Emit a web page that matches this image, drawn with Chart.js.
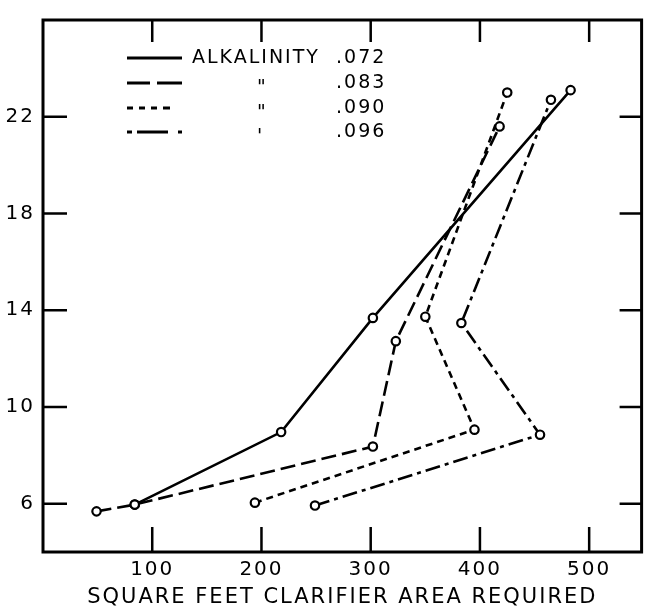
<!DOCTYPE html>
<html><head><meta charset="utf-8">
<script src="https://cdn.jsdelivr.net/npm/chart.js@4.4.1/dist/chart.umd.min.js"></script>
<style>html,body{margin:0;padding:0;background:#fff;}</style>
</head><body>
<canvas id="c" width="648" height="606" style="width:648px;height:606px;display:block"></canvas>
<script>
// ---- data ----
const xTicks = [100, 200, 300, 400, 500];
const yTicks = [6, 10, 14, 18, 22];
const seriesNames = ['.072', '.083', '.090', '.096'];
const legendWords = ['ALKALINITY', '"', '"', "'"];
const xTitle = 'SQUARE FEET CLARIFIER AREA REQUIRED';

const area072  = [84, 218, 302, 483];
const depth072 = [5.96, 8.96, 13.68, 23.1];
const area083  = [49, 84, 302, 323, 418];
const depth083 = [5.68, 5.96, 8.36, 12.72, 21.6];
const area090  = [194, 395, 350, 425];
const depth090 = [6.04, 9.06, 13.73, 23.0];
const area096  = [249, 455, 383, 465];
const depth096 = [5.92, 8.85, 13.47, 22.7];

const dashes = [[], [15, 6], [7, 5], [15, 5, 4, 5]];
const FONT = 'DejaVu Sans';
const SPACING = '2px';

function pts(xs, ys) { return xs.map((v, i) => ({ x: v, y: ys[i] })); }
const allData = [pts(area072, depth072), pts(area083, depth083), pts(area090, depth090), pts(area096, depth096)];

const datasets = allData.map((d, i) => ({
  label: seriesNames[i],
  data: d,
  showLine: true,
  borderColor: '#000',
  borderWidth: 2.6,
  borderDash: dashes[i],
  borderCapStyle: 'butt',
  pointRadius: 4.2,
  pointBorderWidth: 2.2,
  pointBackgroundColor: '#fff',
  pointBorderColor: '#000',
  tension: 0
}));

const framePlugin = {
  id: 'frame',
  beforeUpdate(chart) { chart.ctx.letterSpacing = SPACING; },
  beforeLayout(chart) { chart.ctx.letterSpacing = SPACING; },
  beforeDraw(chart) { chart.ctx.letterSpacing = SPACING; },
  afterDraw(chart) {
    const { ctx, chartArea: a, scales: { x, y } } = chart;
    ctx.save();
    ctx.setLineDash([]);
    ctx.strokeStyle = '#000';
    ctx.lineWidth = 3;
    ctx.strokeRect(a.left, a.top, a.right - a.left, a.bottom - a.top);
    ctx.lineWidth = 2.5;
    ctx.beginPath();
    xTicks.forEach(v => {
      const px = x.getPixelForValue(v);
      ctx.moveTo(px, a.bottom); ctx.lineTo(px, a.bottom - 25);
      ctx.moveTo(px, a.top); ctx.lineTo(px, a.top + 22);
    });
    yTicks.forEach(v => {
      const py = y.getPixelForValue(v);
      ctx.moveTo(a.left, py); ctx.lineTo(a.left + 24, py);
      ctx.moveTo(a.right, py); ctx.lineTo(a.right - 22, py);
    });
    ctx.stroke();

    // legend
    const rows = [58, 83, 108, 132];
    const segs = [
      [[127, 182]],
      [[127, 150], [157, 182]],
      [[127, 133], [139, 145], [151, 157], [163, 170]],
      [[127, 132], [137, 168], [178, 182]]
    ];
    ctx.lineWidth = 3;
    segs.forEach((sg, i) => {
      ctx.beginPath();
      sg.forEach(s => { ctx.moveTo(s[0], rows[i]); ctx.lineTo(s[1], rows[i]); });
      ctx.stroke();
    });
    ctx.fillStyle = '#000';
    ctx.font = '19px "' + FONT + '"';
    ctx.letterSpacing = '2px';
    ctx.textBaseline = 'middle';
    ctx.textAlign = 'left';
    legendWords.forEach((w, i) => {
      if (i === 0) ctx.fillText(w, 192, rows[i]);
      else ctx.fillText(w, 257, rows[i] + 5);
      ctx.fillText(seriesNames[i], 336, rows[i]);
    });
    ctx.restore();
  }
};

new Chart(document.getElementById('c'), {
  type: 'scatter',
  data: { datasets },
  plugins: [framePlugin],
  options: {
    responsive: false,
    animation: false,
    devicePixelRatio: 1,
    layout: { padding: { top: 10, right: 5, left: 0, bottom: 0 } },
    plugins: { legend: { display: false }, tooltip: { enabled: false } },
    scales: {
      x: {
        type: 'linear', min: 0, max: 548,
        afterBuildTicks: s => { s.ticks = xTicks.map(v => ({ value: v })); },
        afterFit: s => { s.height = 54; },
        grid: { display: false, drawTicks: false },
        border: { display: false },
        ticks: { color: '#000', font: { family: FONT, size: 20 }, padding: 6, maxRotation: 0, autoSkip: false },
        title: { display: true, text: xTitle, color: '#000', font: { family: FONT, size: 21, lineHeight: 0.85 }, padding: 0 }
      },
      y: {
        type: 'linear', min: 4, max: 26,
        afterBuildTicks: s => { s.ticks = yTicks.map(v => ({ value: v })); },
        afterFit: s => { s.width = 43; },
        grid: { display: false, drawTicks: false },
        border: { display: false },
        ticks: { color: '#000', font: { family: FONT, size: 20 }, padding: 8, autoSkip: false }
      }
    }
  }
});
</script>
</body></html>
